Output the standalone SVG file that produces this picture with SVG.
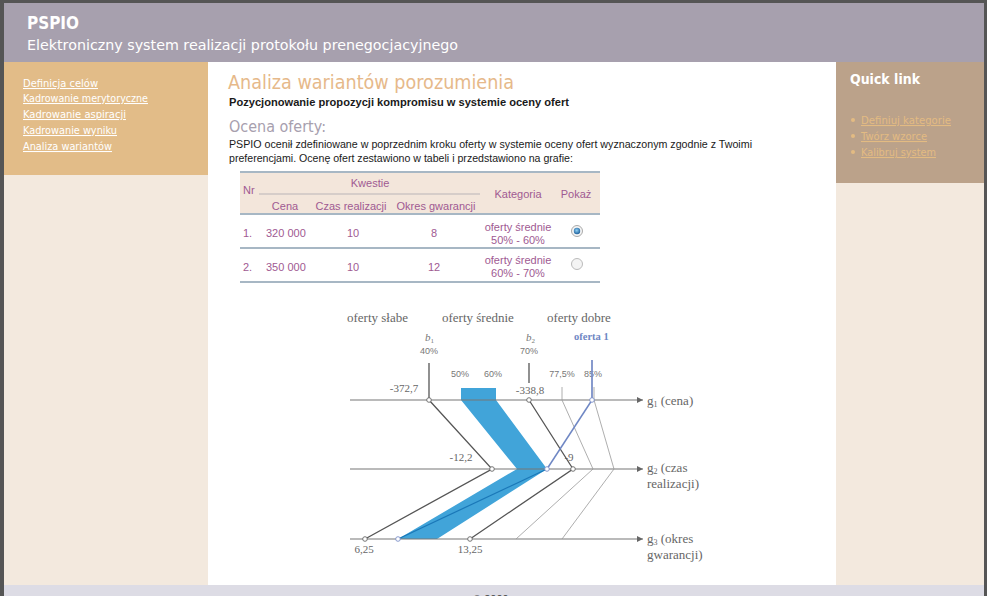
<svg xmlns="http://www.w3.org/2000/svg" width="987" height="596" viewBox="0 0 987 596">
<style>
.hdr{font-family:"DejaVu Sans",sans-serif;fill:#ffffff}
.menu{font-family:"DejaVu Sans",sans-serif;font-size:10.5px;fill:#ffffff;text-decoration:underline}
.ql{font-family:"DejaVu Sans",sans-serif;font-size:10.5px;fill:#e3bb82;text-decoration:underline}
.body{font-family:"Liberation Sans",Arial,sans-serif;font-size:10.6px;fill:#1a1a1a}
.tb{font-family:"Liberation Sans",Arial,sans-serif;font-size:11px;fill:#a05a92}
.tbc{font-family:"Liberation Sans",Arial,sans-serif;font-size:11px;fill:#a05a92;text-anchor:middle}
.tl{stroke:#a7b7c4;stroke-width:2}
.ser{font-family:"Liberation Serif","Times New Roman",serif;font-size:13px;fill:#666}
.num{font-family:"Liberation Serif","Times New Roman",serif;font-size:11px;fill:#666;text-anchor:middle}
.pct{font-family:"Liberation Sans",Arial,sans-serif;font-size:9px;fill:#777;text-anchor:middle}
.ax{stroke:#777;stroke-width:1.2;fill:none}
.dk{stroke:#555;stroke-width:1.3;fill:none}
.lt{stroke:#999;stroke-width:0.8;fill:none}
.pt{fill:#fff;stroke:#666;stroke-width:0.9}
.ptb{fill:#fff;stroke:#7b8fc8;stroke-width:0.9}
</style>
<defs>
<marker id="arr" viewBox="0 0 10 10" refX="10" refY="5" markerWidth="9" markerHeight="6" orient="auto" markerUnits="userSpaceOnUse"><path d="M0,0 L10,5 L0,10 z" fill="#666"/></marker>
<radialGradient id="rad" cx="0.45" cy="0.4" r="0.6"><stop offset="0" stop-color="#8fd0f5"/><stop offset="1" stop-color="#1c5f9a"/></radialGradient>
</defs>
<!-- page background -->
<rect x="0" y="0" width="987" height="596" fill="#555"/>
<rect x="4" y="3" width="980" height="593" fill="#fff"/>
<!-- header -->
<g id="header">
<rect x="4" y="3" width="980" height="59" fill="#a7a0ae"/>
<text class="hdr" x="27" y="29" font-size="18" font-weight="bold" textLength="52" lengthAdjust="spacingAndGlyphs">PSPIO</text>
<text class="hdr" x="27" y="50" font-size="13.5" fill="#f4f2f5" textLength="431" lengthAdjust="spacingAndGlyphs">Elektroniczny system realizacji protokołu prenegocjacyjnego</text>
</g>
<!-- left sidebar -->
<g id="left-menu">
<rect x="4" y="62" width="204" height="113" fill="#e2bc88"/>
<rect x="4" y="175" width="204" height="410" fill="#f3e9de"/>
<text class="menu" x="23" y="87" textLength="75" lengthAdjust="spacingAndGlyphs">Definicja celów</text>
<text class="menu" x="23" y="102" textLength="125" lengthAdjust="spacingAndGlyphs">Kadrowanie merytoryczne</text>
<text class="menu" x="23" y="118" textLength="103" lengthAdjust="spacingAndGlyphs">Kadrowanie aspiracji</text>
<text class="menu" x="23" y="134" textLength="94" lengthAdjust="spacingAndGlyphs">Kadrowanie wyniku</text>
<text class="menu" x="23" y="150" textLength="89" lengthAdjust="spacingAndGlyphs">Analiza wariantów</text>
</g>
<!-- right sidebar -->
<g id="quick-link">
<rect x="836" y="62" width="148" height="121" fill="#bba28a"/>
<rect x="836" y="183" width="148" height="402" fill="#f3e9de"/>
<text class="hdr" x="850" y="84" font-size="14.5" font-weight="bold" textLength="70" lengthAdjust="spacingAndGlyphs">Quick link</text>
<circle cx="853" cy="120" r="2" fill="#e3bb82"/>
<circle cx="853" cy="136" r="2" fill="#e3bb82"/>
<circle cx="853" cy="152" r="2" fill="#e3bb82"/>
<text class="ql" x="861" y="124" textLength="90" lengthAdjust="spacingAndGlyphs">Definiuj kategorie</text>
<text class="ql" x="861" y="140" textLength="66" lengthAdjust="spacingAndGlyphs">Twórz wzorce</text>
<text class="ql" x="861" y="156" textLength="75" lengthAdjust="spacingAndGlyphs">Kalibruj system</text>
</g>
<!-- footer -->
<g id="footer">
<rect x="4" y="585" width="980" height="11" fill="#dddce5"/>
<text x="473" y="603" font-family="Liberation Sans, Arial, sans-serif" font-size="11" fill="#444">© 2009</text>
</g>
<!-- center content -->
<g id="content">
<text x="228" y="89" font-family="DejaVu Sans, sans-serif" font-size="19" fill="#e6b98a" textLength="286" lengthAdjust="spacingAndGlyphs">Analiza wariantów porozumienia</text>
<text x="229" y="106" font-family="Liberation Sans, Arial, sans-serif" font-size="11" font-weight="bold" fill="#1a1a1a" textLength="340" lengthAdjust="spacingAndGlyphs">Pozycjonowanie propozycji kompromisu w systemie oceny ofert</text>
<text x="229" y="132" font-family="DejaVu Sans, sans-serif" font-size="15" fill="#a7a0ae" textLength="97" lengthAdjust="spacingAndGlyphs">Ocena oferty:</text>
<text class="body" x="229" y="148" textLength="523" lengthAdjust="spacingAndGlyphs">PSPIO ocenił zdefiniowane w poprzednim kroku oferty w systemie oceny ofert wyznaczonym zgodnie z Twoimi</text>
<text class="body" x="229" y="162">preferencjami. Ocenę ofert zestawiono w tabeli i przedstawiono na grafie:</text>
</g>
<!-- table -->
<g id="table">
<rect x="240" y="172" width="360" height="42" fill="#f3e6db"/>
<line class="tl" x1="240" y1="172" x2="600" y2="172"/>
<line class="tl" x1="240" y1="214" x2="600" y2="214"/>
<line class="tl" x1="240" y1="248" x2="600" y2="248"/>
<line class="tl" x1="240" y1="282" x2="600" y2="282"/>
<line x1="259" y1="194" x2="480" y2="194" stroke="#b9b3b7" stroke-width="1.2"/>
<text class="tb" x="243" y="194">Nr</text>
<text class="tbc" x="370" y="187">Kwestie</text>
<text class="tbc" x="285" y="210">Cena</text>
<text class="tbc" x="351" y="210">Czas realizacji</text>
<text class="tbc" x="436" y="210">Okres gwarancji</text>
<text class="tbc" x="518" y="198">Kategoria</text>
<text class="tbc" x="576" y="198">Pokaż</text>
<text class="tb" x="243" y="237">1.</text>
<text class="tb" x="266" y="237">320 000</text>
<text class="tbc" x="353" y="237">10</text>
<text class="tbc" x="434" y="237">8</text>
<text class="tbc" x="518" y="231">oferty średnie</text>
<text class="tbc" x="518" y="244">50% - 60%</text>
<circle cx="577" cy="231" r="5.5" fill="#f4f4f4" stroke="#aaa" stroke-width="1"/>
<circle cx="577" cy="231" r="3.2" fill="url(#rad)"/>
<text class="tb" x="243" y="271">2.</text>
<text class="tb" x="266" y="271">350 000</text>
<text class="tbc" x="353" y="271">10</text>
<text class="tbc" x="434" y="271">12</text>
<text class="tbc" x="518" y="264">oferty średnie</text>
<text class="tbc" x="518" y="277">60% - 70%</text>
<circle cx="577" cy="264" r="5.5" fill="#f4f4f4" stroke="#bbb" stroke-width="1"/>
</g>
<!-- graph texts -->
<g id="graph-labels">
<text class="ser" x="347" y="322">oferty słabe</text>
<text class="ser" x="442" y="322">oferty średnie</text>
<text class="ser" x="547" y="322">oferty dobre</text>
<text x="425" y="341" font-family="Liberation Serif, serif" font-size="11" font-style="italic" fill="#777">b<tspan font-size="7" dy="2" font-style="normal">1</tspan></text>
<text x="526" y="341" font-family="Liberation Serif, serif" font-size="11" font-style="italic" fill="#777">b<tspan font-size="7" dy="2" font-style="normal">2</tspan></text>
<text class="pct" x="429" y="354">40%</text>
<text class="pct" x="529" y="354">70%</text>
<text x="574" y="340" font-family="Liberation Serif, serif" font-size="10.5" font-weight="bold" fill="#6f87c4">oferta 1</text>
<text class="pct" x="460" y="377">50%</text>
<text class="pct" x="493" y="377">60%</text>
<text class="pct" x="562" y="377">77,5%</text>
<text class="pct" x="593" y="377">85%</text>
<text class="num" x="404" y="392">-372,7</text>
<text class="num" x="530" y="394">-338,8</text>
<text class="num" x="461" y="461">-12,2</text>
<text class="num" x="569" y="461">-9</text>
<text class="num" x="364" y="553">6,25</text>
<text class="num" x="470" y="553">13,25</text>
<text class="ser" x="647" y="405">g<tspan font-size="8" dy="2">1</tspan><tspan dy="-2"> (cena)</tspan></text>
<text class="ser" x="647" y="472">g<tspan font-size="8" dy="2">2</tspan><tspan dy="-2"> (czas</tspan></text>
<text class="ser" x="647" y="488">realizacji)</text>
<text class="ser" x="647" y="543">g<tspan font-size="8" dy="2">3</tspan><tspan dy="-2"> (okres</tspan></text>
<text class="ser" x="647" y="559">gwarancji)</text>
</g>
<!-- connectors / graph lines -->
<g id="connectors">
<polygon points="461,388 496,388 496,400 547,469 437,539 398,539 517,469 461,400" fill="#41a4d9"/>
<line class="ax" x1="350" y1="400" x2="643" y2="400" marker-end="url(#arr)"/>
<line class="ax" x1="350" y1="469" x2="643" y2="469" marker-end="url(#arr)"/>
<line class="ax" x1="350" y1="539" x2="643" y2="539" marker-end="url(#arr)"/>
<line class="dk" x1="429" y1="363" x2="429" y2="400"/>
<polyline class="dk" points="429,400 492,469 365,539"/>
<line class="dk" x1="529" y1="363" x2="529" y2="383"/>
<polyline class="dk" points="529,400 573,469 470,539"/>
<line class="lt" x1="562" y1="387" x2="562" y2="400"/>
<polyline class="lt" points="562,400 593,469 516,539"/>
<line class="lt" x1="594" y1="387" x2="594" y2="400"/>
<polyline class="lt" points="594,400 614,469 562,539"/>
<line x1="592" y1="360" x2="592" y2="400" stroke="#7b8fc8" stroke-width="1.8"/>
<polyline points="592,400 547,469" fill="none" stroke="#6f87c4" stroke-width="1.5"/>
<polyline points="547,469 398,539" fill="none" stroke="#1a78b8" stroke-width="1.2"/>
<circle class="pt" cx="429" cy="400" r="2.3"/>
<circle class="pt" cx="529" cy="400" r="2.3"/>
<circle class="ptb" cx="592" cy="400" r="2.3"/>
<circle class="pt" cx="492" cy="469" r="2.3"/>
<circle class="ptb" cx="547" cy="469" r="2.3"/>
<circle class="pt" cx="573" cy="469" r="2.3"/>
<circle class="pt" cx="365" cy="539" r="2.3"/>
<circle class="ptb" cx="398" cy="539" r="2.3"/>
<circle class="pt" cx="470" cy="539" r="2.3"/>
</g>
</svg>
